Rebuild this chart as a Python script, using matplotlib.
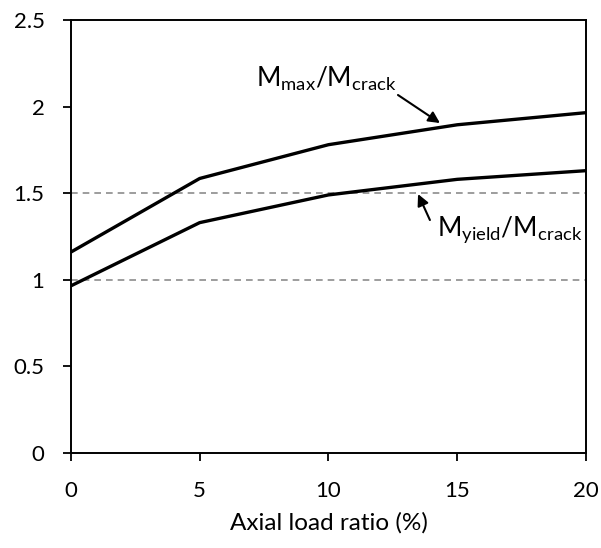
import numpy as np
import matplotlib.pyplot as plt

plt.rcParams['font.family'] = ['Lato', 'DejaVu Sans']

# axial load ratio (%)
axial = [0, 5, 10, 15, 20]
m_max = [1.16, 1.585, 1.78, 1.895, 1.965]
m_yield = [0.965, 1.33, 1.49, 1.58, 1.63]
ref_levels = [1.0, 1.5]

fig = plt.figure(figsize=(6.01, 5.48), dpi=100)
ax = fig.add_subplot(111)
fig.subplots_adjust(left=0.118, right=0.975, top=0.9635, bottom=0.1734)

for lv in ref_levels:
    ax.axhline(lv, color='#8c8c8c', lw=1.2, ls=(0, (4, 3)), zorder=1)

ax.plot(axial, m_max, color='black', lw=2.4, zorder=3)
ax.plot(axial, m_yield, color='black', lw=2.4, zorder=3)

ax.set_xlim(0, 20)
ax.set_ylim(0, 2.5)
ax.set_xticks([0, 5, 10, 15, 20])
ax.set_yticks([0, 0.5, 1, 1.5, 2, 2.5])
ax.set_yticklabels(['0', '0.5', '1', '1.5', '2', '2.5'])
ax.tick_params(direction='out', length=6, width=1.3, labelsize=16, color='black')
ax.tick_params(axis='x', pad=14)
ax.tick_params(axis='y', pad=13)
for s in ax.spines.values():
    s.set_linewidth(1.4)
    s.set_color('black')

ax.set_xlabel('Axial load ratio (%)', fontsize=17.5, labelpad=8)

# annotations
ax.text(7.18, 2.16, r'M$_\mathregular{max}$/M$_\mathregular{crack}$', fontsize=19,
        ha='left', va='center')
ax.annotate('', xy=(14.33, 1.905), xytext=(12.7, 2.067),
            arrowprops=dict(arrowstyle='-|>', color='black', lw=1.5, mutation_scale=17,
                            shrinkA=0, shrinkB=0))
ax.text(14.2, 1.29, r'M$_\mathregular{yield}$/M$_\mathregular{crack}$', fontsize=19,
        ha='left', va='center')
ax.annotate('', xy=(13.48, 1.495), xytext=(13.94, 1.345),
            arrowprops=dict(arrowstyle='-|>', color='black', lw=1.5, mutation_scale=17,
                            shrinkA=0, shrinkB=0))

fig.savefig('out.png', dpi=100)
